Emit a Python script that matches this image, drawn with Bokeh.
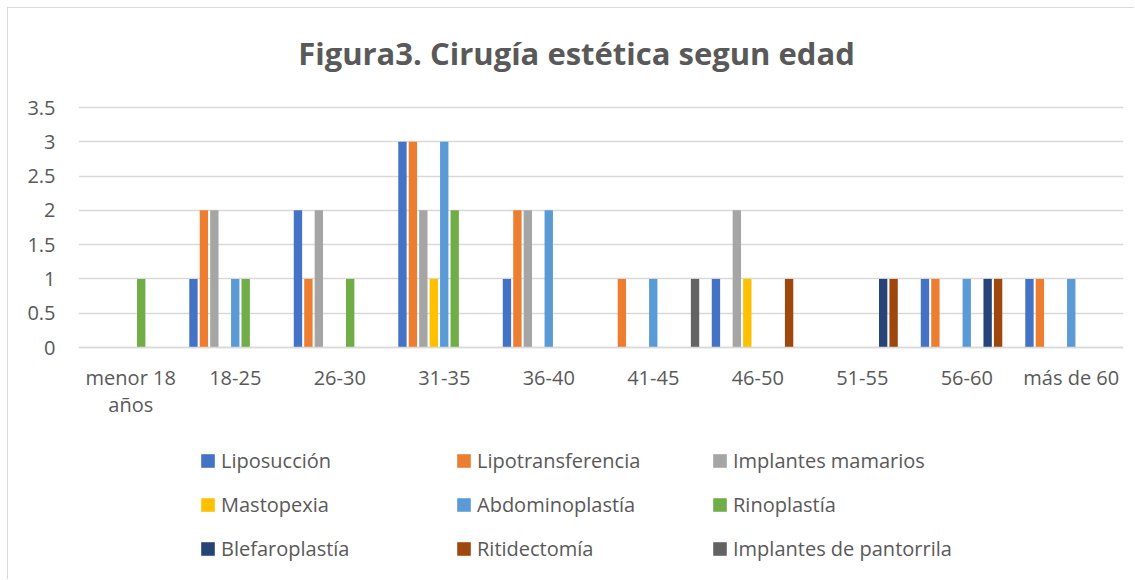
from bokeh.plotting import figure
from bokeh.models import (Range1d, ColumnDataSource, Legend, LegendItem, Label,
                          FixedTicker, NumeralTickFormatter)
from bokeh.transform import dodge
from bokeh.embed import file_html
from bokeh.resources import INLINE

# ---- data ----
ages = ["menor 18 años", "18-25", "26-30", "31-35", "36-40",
        "41-45", "46-50", "51-55", "56-60", "más de 60"]
series_names = ["Liposucción", "Lipotransferencia", "Implantes mamarios",
                "Mastopexia", "Abdominoplastía", "Rinoplastía",
                "Blefaroplastía", "Ritidectomía", "Implantes de pantorrila"]
liposuccion        = [0, 1, 2, 3, 1, 0, 1, 0, 1, 1]
lipotransferencia  = [0, 2, 1, 3, 2, 1, 0, 0, 1, 1]
implantes_mamarios = [0, 2, 2, 2, 2, 0, 2, 0, 0, 0]
mastopexia         = [0, 0, 0, 1, 0, 0, 1, 0, 0, 0]
abdominoplastia    = [0, 1, 0, 3, 2, 1, 0, 0, 1, 1]
rinoplastia        = [1, 1, 1, 2, 0, 0, 0, 0, 0, 0]
blefaroplastia     = [0, 0, 0, 0, 0, 0, 0, 1, 1, 0]
ritidectomia       = [0, 0, 0, 0, 0, 0, 1, 1, 1, 0]
implantes_pantorrila = [0, 0, 0, 0, 0, 1, 0, 0, 0, 0]
y_ticks = [0, 0.5, 1, 1.5, 2, 2.5, 3, 3.5]
title_text = "Figura3. Cirugía estética segun edad"

series_values = [liposuccion, lipotransferencia, implantes_mamarios, mastopexia,
                 abdominoplastia, rinoplastia, blefaroplastia, ritidectomia,
                 implantes_pantorrila]
colors = ["#4472C4", "#ED7D31", "#A5A5A5", "#FFC000", "#5B9BD5",
          "#70AD47", "#264478", "#9E480E", "#636363"]

x_centers = [i + 0.5 for i in range(len(ages))]


def wrap(label, limit=10):
    if len(label) > limit and " " in label:
        head, tail = label.rsplit(" ", 1)
        return head + "\n" + tail
    return label


data = {"age": ages, "xc": x_centers}
for i, vals in enumerate(series_values):
    data["s%d" % i] = vals
src = ColumnDataSource(data)

FONT = "Open Sans"
TXT = "#595959"
GRID = "#d9d9d9"

# layout (pixels inside the figure); the frame spans the full height so that
# title and legend can sit inside it, the value axis occupies rows TOP_PX..ZERO_PX
W, H = 1127, 572
TOP_PX, ZERO_PX = 99, 339
Y_MAX = max(y_ticks)
px_per_unit = (ZERO_PX - TOP_PX) / Y_MAX
y_start = -(H - ZERO_PX) / px_per_unit
y_end = Y_MAX + TOP_PX / px_per_unit

p = figure(width=W, height=H, x_range=Range1d(0, len(ages)), y_range=Range1d(y_start, y_end),
           output_backend="svg", toolbar_location=None,
           min_border_left=70, min_border_right=12, min_border_top=0, min_border_bottom=0,
           styles={"margin-top": "7px", "margin-left": "7px",
                   "border-top": "1px solid #d9d9d9", "border-left": "1px solid #d9d9d9"})
p.outline_line_color = None
p.background_fill_color = "white"
p.border_fill_color = "white"

title = Label(x=498, y=H - 44, x_units="screen", y_units="screen", text=title_text,
              text_align="center", text_baseline="middle", text_font=FONT,
              text_font_style="bold", text_font_size="31px", text_color=TXT)
p.add_layout(title)

n = len(series_names)
step = 0.1
renderers = []
for j, name in enumerate(series_names):
    r = p.vbar(x=dodge("xc", (j - (n - 1) / 2) * step),
               top="s%d" % j, width=0.08, source=src,
               fill_color=colors[j], line_color=None)
    renderers.append(r)

# axes
p.yaxis.ticker = FixedTicker(ticks=y_ticks)
p.yaxis.formatter = NumeralTickFormatter(format="0.[0]")
p.yaxis.axis_line_color = None
p.yaxis.major_tick_line_color = None
p.yaxis.minor_tick_line_color = None
p.yaxis.major_label_standoff = 17
p.yaxis.major_label_text_font = FONT
p.yaxis.major_label_text_font_size = "20px"
p.yaxis.major_label_text_color = TXT

p.xaxis.fixed_location = 0
p.xaxis.ticker = FixedTicker(ticks=x_centers)
p.xaxis.major_label_overrides = {x: wrap(a) for x, a in zip(x_centers, ages)}
p.xaxis.axis_line_color = GRID
p.xaxis.axis_line_width = 1.5
p.xaxis.major_tick_line_color = None
p.xaxis.minor_tick_line_color = None
p.xaxis.major_label_standoff = 10
p.xaxis.major_label_text_font = FONT
p.xaxis.major_label_text_font_size = "20px"
p.xaxis.major_label_text_line_height = 1.0
p.xaxis.major_label_text_color = TXT

p.xgrid.grid_line_color = None
p.ygrid.grid_line_color = GRID
p.ygrid.grid_line_width = 1.5

# legend: 3 x 3 grid under the axis labels
items = [LegendItem(label=name, renderers=[r]) for name, r in zip(series_names, renderers)]
leg = Legend(items=items, location=(121, 18), orientation="horizontal", ncols=3,
             glyph_width=17, glyph_height=17, label_height=27, label_width=217,
             label_standoff=5, spacing=17, padding=0, margin=0,
             border_line_color=None, background_fill_alpha=0,
             label_text_font=FONT, label_text_font_size="20px", label_text_color=TXT)
p.add_layout(leg, "center")

open("out.html", "w").write(file_html(p, INLINE))
